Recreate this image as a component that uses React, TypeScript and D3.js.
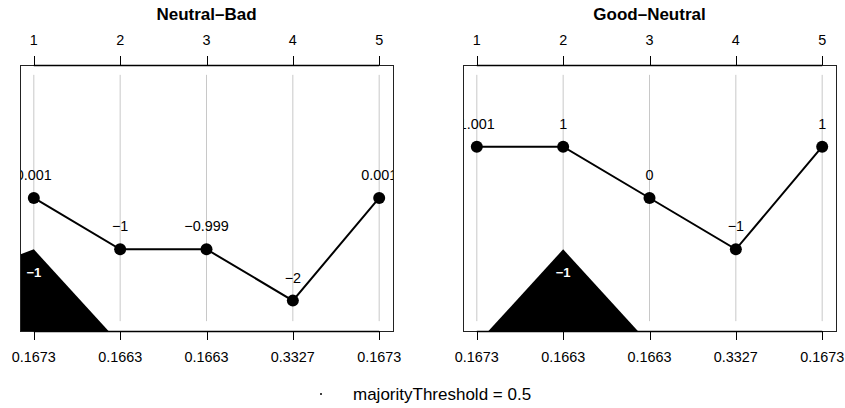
import React from "react";
import * as d3 from "d3";

const categories = [1, 2, 3, 4, 5];
const bottomLabels = ["0.1673", "0.1663", "0.1663", "0.3327", "0.1673"];
const panelTitles = ["Neutral–Bad", "Good–Neutral"];

const neutralBadValues = [0.001, -1, -0.999, -2, 0.001];
const neutralBadLabels = ["0.001", "−1", "−0.999", "−2", "0.001"];
const goodNeutralValues = [1.001, 1, 0, -1, 1];
const goodNeutralLabels = ["1.001", "1", "0", "−1", "1"];

const neutralBadPolyX = [0, 1, 2];
const neutralBadPolyY = [-1.64, -1, -2.84];
const goodNeutralPolyX = [1, 2, 3];
const goodNeutralPolyY = [-2.84, -1, -2.84];
const polyLabels = ["−1", "−1"];

const yDataRange = [-2.4, 2.4];

const W = 845;
const H = 408;
const FONT = "'Liberation Sans', Arial, Helvetica, sans-serif";

type PanelProps = {
  idx: number;
  left: number;
  right: number;
  title: string;
  values: number[];
  labels: string[];
  polyX: number[];
  polyY: number[];
  polyLabel: string;
};

function Panel({ idx, left, right, title, values, labels, polyX, polyY, polyLabel }: PanelProps) {
  const top = 65;
  const bottom = 331;
  const xPad = (categories[categories.length - 1] - categories[0]) * 0.04;
  const x = d3
    .scaleLinear()
    .domain([categories[0] - xPad, categories[categories.length - 1] + xPad])
    .range([left, right]);
  const yPad = (yDataRange[1] - yDataRange[0]) * 0.04;
  const y = d3
    .scaleLinear()
    .domain([yDataRange[0] - yPad, yDataRange[1] + yPad])
    .range([bottom, top]);

  const clipId = `clip-${idx}`;
  const line = d3
    .line<number>()
    .x((_, i) => x(categories[i]))
    .y((d) => y(d));

  const polyPts = polyX.map((px, i) => [x(px), y(polyY[i])] as [number, number]);
  const first = polyPts[0];
  const last = polyPts[polyPts.length - 1];
  const polyPath =
    "M" +
    polyPts.map((p) => p.join(",")).join("L") +
    `L${last[0]},${bottom + 50}L${first[0]},${bottom + 50}Z`;
  const apexIdx = polyY.indexOf(d3.max(polyY) as number);

  return (
    <g>
      <defs>
        <clipPath id={clipId}>
          <rect x={left} y={top} width={right - left} height={bottom - top} />
        </clipPath>
      </defs>
      <text
        x={(left + right) / 2}
        y={14}
        textAnchor="middle"
        dominantBaseline="central"
        fontFamily={FONT}
        fontWeight="bold"
        fontSize={17}
      >
        {title}
      </text>
      <g clipPath={`url(#${clipId})`}>
        {categories.map((c) => (
          <line
            key={c}
            x1={x(c)}
            x2={x(c)}
            y1={y(yDataRange[0])}
            y2={y(yDataRange[1])}
            stroke="#c8c8c8"
            strokeWidth={1}
          />
        ))}
        <path d={polyPath} fill="#000" />
        <text
          x={x(polyX[apexIdx])}
          y={y(polyY[apexIdx]) + 23}
          textAnchor="middle"
          dominantBaseline="central"
          fontFamily={FONT}
          fontWeight="bold"
          fontSize={13}
          fill="#fff"
        >
          {polyLabel}
        </text>
        {values.map((v, i) => (
          <text
            key={i}
            x={x(categories[i])}
            y={y(v) - 23}
            textAnchor="middle"
            dominantBaseline="central"
            fontFamily={FONT}
            fontSize={14.4}
            fill="#000"
          >
            {labels[i]}
          </text>
        ))}
        <path d={line(values) || ""} fill="none" stroke="#000" strokeWidth={2} />
        {values.map((v, i) => (
          <circle key={i} cx={x(categories[i])} cy={y(v)} r={6} fill="#000" />
        ))}
      </g>
      <rect
        x={left + 0.5}
        y={top + 0.5}
        width={right - left}
        height={bottom - top}
        fill="none"
        stroke="#222"
        strokeWidth={1}
      />
      {/* top axis */}
      <line x1={x(categories[0])} x2={x(categories[categories.length - 1])} y1={top + 0.5} y2={top + 0.5} stroke="#000" strokeWidth={1.5} />
      {categories.map((c) => (
        <g key={`t${c}`}>
          <line x1={Math.round(x(c)) + 0.5} x2={Math.round(x(c)) + 0.5} y1={top - 9} y2={top} stroke="#000" strokeWidth={1} />
          <text
            x={x(c)}
            y={39.5}
            textAnchor="middle"
            dominantBaseline="central"
            fontFamily={FONT}
            fontSize={14.4}
          >
            {c}
          </text>
        </g>
      ))}
      {/* bottom axis */}
      <line x1={x(categories[0])} x2={x(categories[categories.length - 1])} y1={bottom + 0.5} y2={bottom + 0.5} stroke="#000" strokeWidth={1.5} />
      {categories.map((c, i) => (
        <g key={`b${c}`}>
          <line x1={Math.round(x(c)) + 0.5} x2={Math.round(x(c)) + 0.5} y1={bottom} y2={bottom + 9} stroke="#000" strokeWidth={1} />
          <text
            x={x(c)}
            y={357}
            textAnchor="middle"
            dominantBaseline="central"
            fontFamily={FONT}
            fontSize={14.4}
          >
            {bottomLabels[i]}
          </text>
        </g>
      ))}
    </g>
  );
}

export default function App() {
  return (
    <svg
      width={W}
      height={H}
      style={{ position: "absolute", left: 0, top: 0, background: "#fff", display: "block" }}
    >
      <rect width={W} height={H} fill="#fff" />
      <Panel
        idx={0}
        left={20}
        right={393}
        title={panelTitles[0]}
        values={neutralBadValues}
        labels={neutralBadLabels}
        polyX={neutralBadPolyX}
        polyY={neutralBadPolyY}
        polyLabel={polyLabels[0]}
      />
      <Panel
        idx={1}
        left={463}
        right={836}
        title={panelTitles[1]}
        values={goodNeutralValues}
        labels={goodNeutralLabels}
        polyX={goodNeutralPolyX}
        polyY={goodNeutralPolyY}
        polyLabel={polyLabels[1]}
      />
      <circle cx={321} cy={394} r={1} fill="#000" />
      <text x={353} y={394} dominantBaseline="central" fontFamily={FONT} fontSize={17}>
        majorityThreshold = 0.5
      </text>
    </svg>
  );
}
